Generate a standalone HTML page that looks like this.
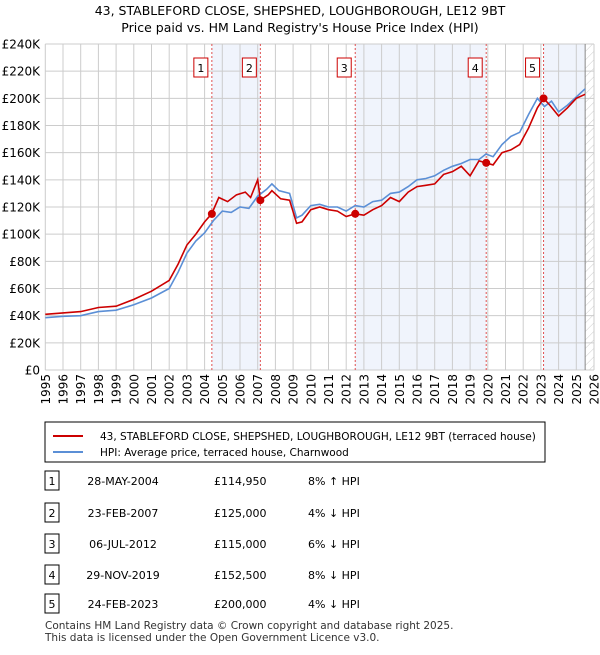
<!DOCTYPE html>
<html><head><meta charset="utf-8"><style>
body{margin:0;width:600px;height:650px;background:#fff;font-family:"Liberation Sans","DejaVu Sans",sans-serif;color:#000;overflow:hidden}
svg text{font-family:"DejaVu Sans","Liberation Sans",sans-serif}
</style></head><body>
<svg id="c" width="600" height="650" xmlns="http://www.w3.org/2000/svg">
<text x="300" y="15" text-anchor="middle" font-size="12.5">43, STABLEFORD CLOSE, SHEPSHED, LOUGHBOROUGH, LE12 9BT</text>
<text x="300" y="32" text-anchor="middle" font-size="12.5">Price paid vs. HM Land Registry's House Price Index (HPI)</text>
<g id="plot"></g>
<rect x="45" y="422" width="500" height="40" fill="#fff" stroke="#000" stroke-width="1"/>
<line x1="53" y1="436" x2="83" y2="436" stroke="#cc0000" stroke-width="2"/>
<text x="100" y="440" font-size="10.5">43, STABLEFORD CLOSE, SHEPSHED, LOUGHBOROUGH, LE12 9BT (terraced house)</text>
<line x1="53" y1="452" x2="83" y2="452" stroke="#5b8fd6" stroke-width="2"/>
<text x="100" y="456" font-size="10.5">HPI: Average price, terraced house, Charnwood</text>
<g id="tbl"></g>
<text x="45" y="629" font-size="10.5" fill="#333">Contains HM Land Registry data © Crown copyright and database right 2025.</text>
<text x="45" y="641" font-size="10.5" fill="#333">This data is licensed under the Open Government Licence v3.0.</text>
</svg>
<script>
const hpiT=[1995,1996,1997,1998,1999,2000,2001,2002,2002.5,2003,2003.5,2004,2004.5,2005,2005.5,2006,2006.5,2007,2007.5,2007.8,2008.2,2008.8,2009.2,2009.5,2010,2010.5,2011,2011.5,2012,2012.5,2013,2013.5,2014,2014.5,2015,2015.5,2016,2016.5,2017,2017.5,2018,2018.5,2019,2019.5,2019.9,2020.3,2020.8,2021.3,2021.8,2022.3,2022.8,2023.2,2023.6,2024,2024.5,2025,2025.5];
const hpiV=[38.5,39.5,40,43,44,48,53,60,72,86,95,101,110,117,116,120,119,128,133,137,132,130,112,114,121,122,120,120,117,121,120,124,125,130,131,135,140,141,143,147,150,152,155,155,159,157,166,172,175,188,200,194,198,190,195,201,207];
const ppT=[1995,1996,1997,1998,1999,2000,2001,2002,2002.5,2003,2003.5,2004,2004.4,2004.8,2005.3,2005.8,2006.3,2006.6,2007.0,2007.15,2007.6,2007.8,2008.3,2008.8,2009.2,2009.5,2010,2010.5,2011,2011.5,2012,2012.5,2013,2013.5,2014,2014.5,2015,2015.5,2016,2016.5,2017,2017.5,2018,2018.5,2019,2019.5,2019.9,2020.3,2020.8,2021.3,2021.8,2022.3,2022.8,2023.15,2023.5,2024,2024.5,2025,2025.5];
const ppV=[41,42,43,46,47,52,58,66,78,92,100,109,115,127,124,129,131,127,140,125,129,132,126,125,108,109,118,120,118,117,113,115,114,118,121,127,124,131,135,136,137,144,146,150,143,154,152.5,151,160,162,166,178,193,200,195,187,193,200,203];
const saleT=[2004.41,2007.15,2012.51,2019.91,2023.15];
const saleV=[114.95,125,115,152.5,200];
const saleLabels=["1","2","3","4","5"];
const saleDates=["28-MAY-2004","23-FEB-2007","06-JUL-2012","29-NOV-2019","24-FEB-2023"];
const salePrices=["£114,950","£125,000","£115,000","£152,500","£200,000"];
const saleHpi=["8% ↑ HPI","4% ↓ HPI","6% ↓ HPI","8% ↓ HPI","4% ↓ HPI"];
const yTicks=[0,20,40,60,80,100,120,140,160,180,200,220,240];
const xYears=[1995,1996,1997,1998,1999,2000,2001,2002,2003,2004,2005,2006,2007,2008,2009,2010,2011,2012,2013,2014,2015,2016,2017,2018,2019,2020,2021,2022,2023,2024,2025,2026];
const X0=45.3,X1=594,Y0=370,Y1=44;
const xs=t=>X0+(t-1995)*(X1-X0)/31;
const ys=v=>Y0-v*(Y0-Y1)/240;
const NS="http://www.w3.org/2000/svg";
const P=document.getElementById('plot');
function mk(tag,at,par){const e=document.createElementNS(NS,tag);for(const k in at)e.setAttribute(k,at[k]);(par||P).appendChild(e);return e;}
for(const [a,b] of [[0,1],[2,3]]){const r=mk('rect',{x:xs(saleT[a]),y:Y1,width:xs(saleT[b])-xs(saleT[a]),height:Y0-Y1,fill:'#f0f4fc'});

}
{const r=mk('rect',{x:xs(saleT[4]),y:Y1,width:xs(2025.5)-xs(saleT[4]),height:Y0-Y1,fill:'#f0f4fc'});

}
const defs=mk('defs',{});
const pat=mk('pattern',{id:'h',width:6,height:6,patternUnits:'userSpaceOnUse',patternTransform:'rotate(45)'},defs);
mk('line',{x1:0,y1:0,x2:0,y2:6,stroke:'#ccc','stroke-width':1},pat);
{const r=mk('rect',{x:xs(2025.5),y:Y1,width:X1-xs(2025.5),height:Y0-Y1,fill:'url(#h)'});

}
for(const v of yTicks){mk('line',{x1:X0,x2:X1,y1:ys(v),y2:ys(v),stroke:'#ccc','stroke-width':1});
const t=mk('text',{x:40,y:ys(v)+4.5,'text-anchor':'end','font-size':12});t.textContent='£'+(v?v+'K':'0');

}
for(const y of xYears){mk('line',{x1:xs(y),x2:xs(y),y1:Y1,y2:Y0,stroke:'#ccc','stroke-width':1});
const t=mk('text',{x:0,y:0,'text-anchor':'end','font-size':12,transform:`translate(${xs(y)+4.5},374) rotate(-90)`});t.textContent=y;

}
mk('line',{x1:xs(2025.5),x2:xs(2025.5),y1:Y1,y2:Y0,stroke:'#888','stroke-width':1});
saleT.forEach((t,i)=>{mk('line',{x1:xs(t),x2:xs(t),y1:Y1,y2:Y0,stroke:'#e05050','stroke-width':1,'stroke-dasharray':'2,2'});
const r=mk('rect',{x:xs(t)-18,y:58,width:14,height:19,fill:'#fff',stroke:'#cc0000'});


const tx=mk('text',{x:xs(t)-11,y:72,'text-anchor':'middle','font-size':11});tx.textContent=saleLabels[i];});
const path=(T,V)=>T.map((t,i)=>(i?'L':'M')+xs(t).toFixed(1)+','+ys(V[i]).toFixed(1)).join('');
{const l=mk('path',{d:path(hpiT,hpiV),fill:'none',stroke:'#5b8fd6','stroke-width':1.6});

}
{const l=mk('path',{d:path(ppT,ppV),fill:'none',stroke:'#cc0000','stroke-width':1.6});

}
saleT.forEach((t,i)=>{const c=mk('circle',{cx:xs(t),cy:ys(saleV[i]),r:4,fill:'#cc0000'});

});
const T=document.getElementById('tbl');
const rowY=[481,513,544,575,604];
saleLabels.forEach((l,i)=>{const y=rowY[i];
const r=mk('rect',{x:45,y:y-10,width:14,height:19,fill:'#fff',stroke:'#000'},T);


const a=mk('text',{x:52,y:y+4,'text-anchor':'middle','font-size':11},T);a.textContent=l;
const d=mk('text',{x:123,y:y+4,'text-anchor':'middle','font-size':11},T);d.textContent=saleDates[i];


const p=mk('text',{x:214,y:y+4,'font-size':11},T);p.textContent=salePrices[i];


const h=mk('text',{x:308,y:y+4,'font-size':11},T);h.textContent=saleHpi[i];

});
</script>
</body></html>
